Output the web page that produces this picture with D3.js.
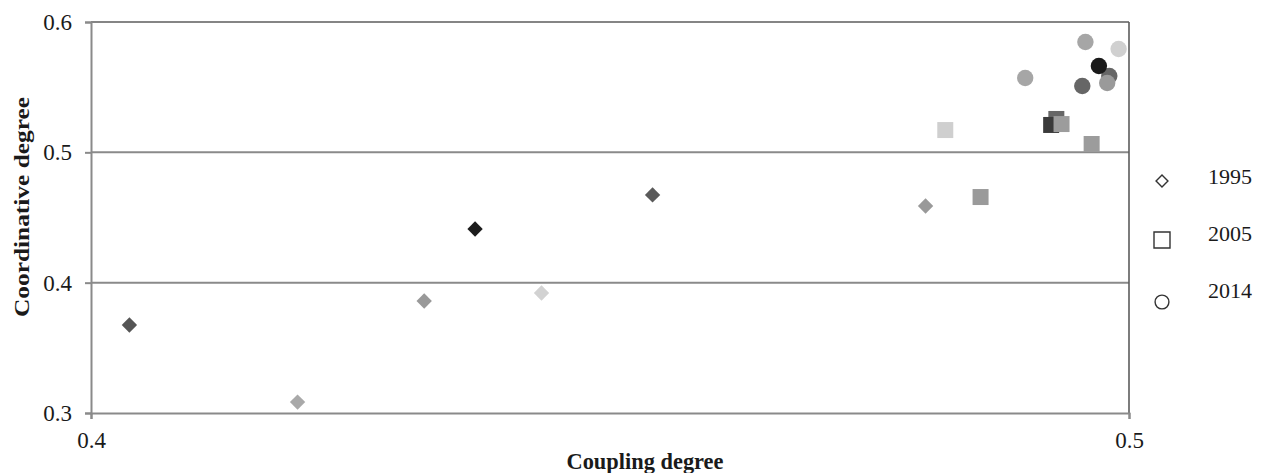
<!DOCTYPE html>
<html>
<head>
<meta charset="utf-8">
<script src="https://cdn.jsdelivr.net/npm/d3@7"></script>
<style>
  html, body { margin: 0; padding: 0; background: #fff; }
  svg { display: block; }
  text { font-family: "Liberation Serif", "Times New Roman", serif; fill: #1a1a1a; }
</style>
</head>
<body>
<svg id="chart" width="1268" height="473"></svg>
<script>
// Coupling (x) and coordination (y) degree per region, three survey years
const years = ["1995", "2005", "2014"];

const coupling1995 = [0.4037, 0.4199, 0.4321, 0.4370, 0.4434, 0.4541, 0.4804];
const coord1995    = [0.3675, 0.3084, 0.3859, 0.4412, 0.3921, 0.4673, 0.4588];
const shade1995    = ["#555555", "#a9a9a9", "#999999", "#1c1c1c", "#d2d2d2", "#5a5a5a", "#999999"];

const coupling2005 = [0.4823, 0.4857, 0.4930, 0.4925, 0.4935, 0.4964];
const coord2005    = [0.5171, 0.4657, 0.5256, 0.5210, 0.5217, 0.5064];
const shade2005    = ["#cfcfcf", "#9a9a9a", "#666666", "#3a3a3a", "#9c9c9c", "#9c9c9c"];

const coupling2014 = [0.4900, 0.4958, 0.4990, 0.4955, 0.4981, 0.4971, 0.4979];
const coord2014    = [0.5570, 0.5847, 0.5793, 0.5509, 0.5586, 0.5662, 0.5532];
const shade2014    = ["#a6a6a6", "#a6a6a6", "#d0d0d0", "#666666", "#666666", "#1a1a1a", "#9a9a9a"];

const xTicks = [0.4, 0.5];
const yTicks = [0.3, 0.4, 0.5, 0.6];

const svg = d3.select("#chart");
const plot = { left: 91, right: 1129, top: 22, bottom: 413 };

const x = d3.scaleLinear().domain([0.4, 0.5]).range([plot.left, plot.right]);
const y = d3.scaleLinear().domain([0.3, 0.6]).range([plot.bottom, plot.top]);

// horizontal gridlines
svg.append("g").selectAll("line")
  .data(yTicks.filter(v => v > 0.3 && v < 0.6))
  .join("line")
  .attr("x1", plot.left).attr("x2", plot.right)
  .attr("y1", d => y(d)).attr("y2", d => y(d))
  .attr("stroke", "#8a8a8a").attr("stroke-width", 2);

// frame: darker top and right edges
svg.append("line")
  .attr("x1", plot.left).attr("x2", plot.right)
  .attr("y1", y(0.6)).attr("y2", y(0.6))
  .attr("stroke", "#5c5c5c").attr("stroke-width", 1.6);
svg.append("line")
  .attr("x1", plot.right).attr("x2", plot.right)
  .attr("y1", plot.top).attr("y2", plot.bottom)
  .attr("stroke", "#5c5c5c").attr("stroke-width", 1.6);

// y axis
const yAxis = svg.append("g")
  .attr("transform", `translate(${plot.left},0)`)
  .call(d3.axisLeft(y).tickValues(yTicks).tickFormat(d3.format(".1f")).tickSize(6).tickPadding(13));
yAxis.select(".domain").attr("stroke", "#8a8a8a").attr("stroke-width", 2);
yAxis.selectAll(".tick line").attr("stroke", "#8a8a8a").attr("stroke-width", 2);
yAxis.selectAll(".tick text")
  .style("font-family", "'Liberation Serif', serif")
  .style("font-size", "23px").attr("fill", "#1a1a1a");

// x axis
const xAxis = svg.append("g")
  .attr("transform", `translate(0,${plot.bottom})`)
  .call(d3.axisBottom(x).tickValues(xTicks).tickFormat(d3.format(".1f")).tickSize(6).tickPadding(13));
xAxis.select(".domain").attr("stroke", "#8a8a8a").attr("stroke-width", 2);
xAxis.selectAll(".tick line").attr("stroke", "#8a8a8a").attr("stroke-width", 2);
xAxis.selectAll(".tick text")
  .style("font-family", "'Liberation Serif', serif")
  .style("font-size", "23px").attr("fill", "#1a1a1a");

// axis titles
svg.append("text")
  .attr("x", 645).attr("y", 469)
  .attr("text-anchor", "middle")
  .attr("textLength", 157).attr("lengthAdjust", "spacingAndGlyphs")
  .style("font-size", "23px").style("font-weight", "bold")
  .text("Coupling degree");

svg.append("text")
  .attr("transform", "translate(29,207) rotate(-90)")
  .attr("text-anchor", "middle")
  .attr("textLength", 220).attr("lengthAdjust", "spacingAndGlyphs")
  .style("font-size", "21px").style("font-weight", "bold")
  .text("Coordinative degree");

// markers
const pts = (xs, ys, cs) => xs.map((v, i) => ({ x: v, y: ys[i], c: cs[i] }));
const marks = svg.append("g");

marks.selectAll("path.d95")
  .data(pts(coupling1995, coord1995, shade1995))
  .join("path")
  .attr("class", "d95")
  .attr("d", d3.symbol(d3.symbolDiamond2, 150))
  .attr("transform", d => `translate(${x(d.x)},${y(d.y)})`)
  .attr("fill", d => d.c);

marks.selectAll("path.s05")
  .data(pts(coupling2005, coord2005, shade2005))
  .join("path")
  .attr("class", "s05")
  .attr("d", d3.symbol(d3.symbolSquare, 256))
  .attr("transform", d => `translate(${x(d.x)},${y(d.y)})`)
  .attr("fill", d => d.c);

marks.selectAll("path.c14")
  .data(pts(coupling2014, coord2014, shade2014))
  .join("path")
  .attr("class", "c14")
  .attr("d", d3.symbol(d3.symbolCircle, Math.PI * 8.2 * 8.2))
  .attr("transform", d => `translate(${x(d.x)},${y(d.y)})`)
  .attr("fill", d => d.c);

// legend
const legendShapes = [d3.symbolDiamond2, d3.symbolSquare, d3.symbolCircle];
const legendSizes = [90, 256, 150];
const legend = svg.append("g");
years.forEach((yr, i) => {
  const cy = [181, 240, 302][i];
  legend.append("path")
    .attr("d", d3.symbol(legendShapes[i], legendSizes[i]))
    .attr("transform", `translate(1162,${cy})`)
    .attr("fill", "#fff").attr("stroke", "#333").attr("stroke-width", 1.4);
  legend.append("text")
    .attr("x", 1208).attr("y", [184, 241, 298][i])
    .style("font-size", "22px")
    .text(yr);
});
</script>
</body>
</html>
